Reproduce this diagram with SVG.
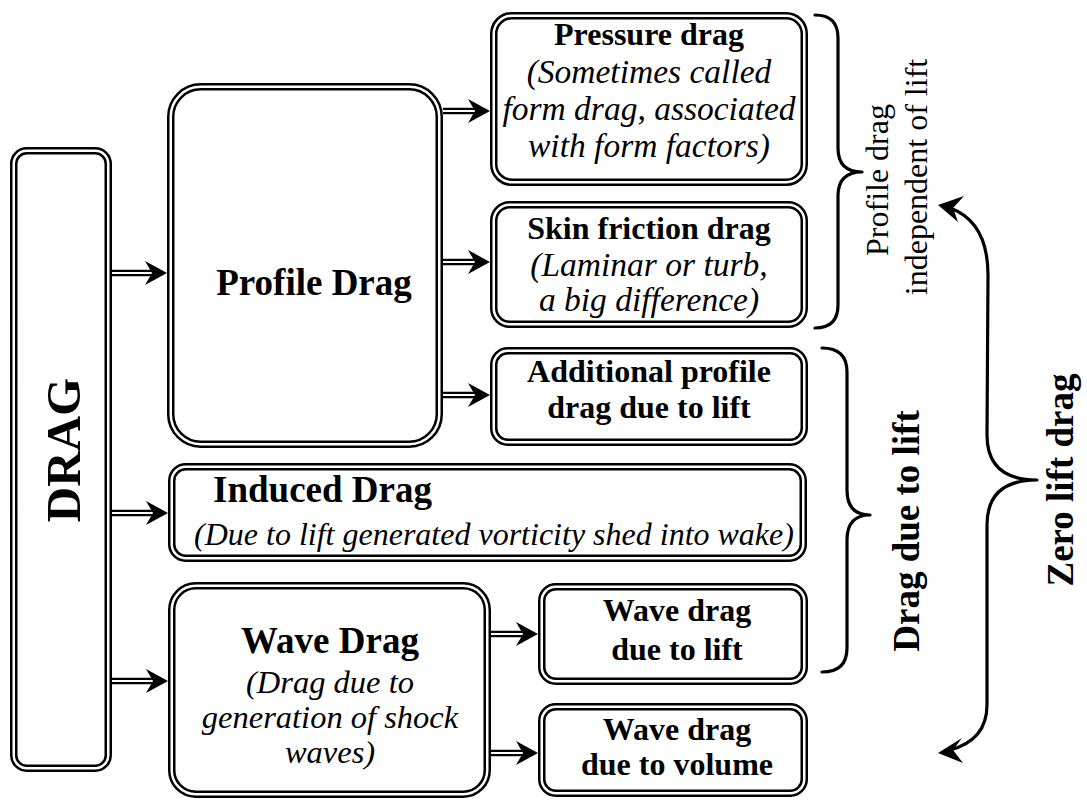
<svg xmlns="http://www.w3.org/2000/svg" width="1087" height="803" viewBox="0 0 1087 803">
<style>
.o{fill:#fff;stroke:#000;stroke-width:7.5}
.i{fill:none;stroke:#fff;stroke-width:2.5}
.sb{stroke:#000;stroke-width:6.5;fill:none}
.sw{stroke:#fff;stroke-width:2.2;fill:none}
.br{fill:none;stroke:#000;stroke-width:3.2;stroke-linecap:round;stroke-linejoin:round}
text{font-family:"Liberation Serif","Times New Roman",serif;fill:#000}
.b{font-weight:bold}
.it{font-style:italic}
.m{text-anchor:middle}
</style>
<defs>
<path id="ah" d="M0,0 L-22,-12 L-15,0 L-22,12 Z" fill="#000"/>
</defs>
<rect width="1087" height="803" fill="#fff"/>

<g id="connectors">
  <g id="a1"><line class="sb" x1="112" y1="273" x2="155" y2="273"/><line class="sw" x1="112" y1="273" x2="153" y2="273"/><use href="#ah" x="167" y="273"/></g>
  <g id="a2"><line class="sb" x1="112" y1="513" x2="156" y2="513"/><line class="sw" x1="112" y1="513" x2="154" y2="513"/><use href="#ah" x="168" y="513"/></g>
  <g id="a3"><line class="sb" x1="112" y1="681" x2="156" y2="681"/><line class="sw" x1="112" y1="681" x2="154" y2="681"/><use href="#ah" x="168" y="681"/></g>
  <g id="a4"><line class="sb" x1="443" y1="111" x2="478" y2="111"/><line class="sw" x1="443" y1="111" x2="476" y2="111"/><use href="#ah" x="490" y="111"/></g>
  <g id="a5"><line class="sb" x1="443" y1="262" x2="478" y2="262"/><line class="sw" x1="443" y1="262" x2="476" y2="262"/><use href="#ah" x="490" y="262"/></g>
  <g id="a6"><line class="sb" x1="443" y1="395" x2="478" y2="395"/><line class="sw" x1="443" y1="395" x2="476" y2="395"/><use href="#ah" x="490" y="395"/></g>
  <g id="a7"><line class="sb" x1="491" y1="634" x2="526" y2="634"/><line class="sw" x1="491" y1="634" x2="524" y2="634"/><use href="#ah" x="538" y="634"/></g>
  <g id="a8"><line class="sb" x1="491" y1="753" x2="526" y2="753"/><line class="sw" x1="491" y1="753" x2="524" y2="753"/><use href="#ah" x="538" y="753"/></g>
</g>

<g id="drag">
  <rect class="o" x="13.75" y="150.75" width="94.5" height="617.5" rx="13"/>
  <rect class="i" x="13.75" y="150.75" width="94.5" height="617.5" rx="13"/>
  <text class="b m" font-size="49" transform="translate(80,450) rotate(-90)">DRAG</text>
</g>

<g id="profile">
  <rect class="o" x="170.75" y="86.75" width="268.5" height="357.5" rx="30"/>
  <rect class="i" x="170.75" y="86.75" width="268.5" height="357.5" rx="30"/>
  <text class="b m" font-size="37" x="314" y="295">Profile Drag</text>
</g>

<g id="pressure">
  <rect class="o" x="493.75" y="15.75" width="310.5" height="166.5" rx="18"/>
  <rect class="i" x="493.75" y="15.75" width="310.5" height="166.5" rx="18"/>
  <text class="b m" font-size="32" x="649" y="45">Pressure drag</text>
  <text class="it m" font-size="33.5" x="649" y="83">(Sometimes called</text>
  <text class="it m" font-size="33.5" x="649" y="120">form drag, associated</text>
  <text class="it m" font-size="33.5" x="649" y="157">with form factors)</text>
</g>

<g id="skin">
  <rect class="o" x="493.75" y="204.75" width="310.5" height="119.5" rx="16"/>
  <rect class="i" x="493.75" y="204.75" width="310.5" height="119.5" rx="16"/>
  <text class="b m" font-size="32" x="649" y="239">Skin friction drag</text>
  <text class="it m" font-size="33.5" x="649" y="276">(Laminar or turb,</text>
  <text class="it m" font-size="33.5" x="649" y="311">a big difference)</text>
</g>

<g id="additional">
  <rect class="o" x="493.75" y="350.75" width="310.5" height="91.5" rx="14"/>
  <rect class="i" x="493.75" y="350.75" width="310.5" height="91.5" rx="14"/>
  <text class="b m" font-size="32" x="649" y="382">Additional profile</text>
  <text class="b m" font-size="32" x="649" y="418">drag due to lift</text>
</g>

<g id="induced">
  <rect class="o" x="171.75" y="466.75" width="631.5" height="91.5" rx="14"/>
  <rect class="i" x="171.75" y="466.75" width="631.5" height="91.5" rx="14"/>
  <text class="b" font-size="37" x="213" y="502">Induced Drag</text>
  <text class="it m" font-size="32" x="494" y="545">(Due to lift generated vorticity shed into wake)</text>
</g>

<g id="wave">
  <rect class="o" x="171.75" y="585.75" width="315.5" height="208.5" rx="24"/>
  <rect class="i" x="171.75" y="585.75" width="315.5" height="208.5" rx="24"/>
  <text class="b m" font-size="37" x="330" y="653">Wave Drag</text>
  <text class="it m" font-size="32.5" x="330" y="693">(Drag due to</text>
  <text class="it m" font-size="32.5" x="330" y="728">generation of shock</text>
  <text class="it m" font-size="32.5" x="330" y="763">waves)</text>
</g>

<g id="wavelift">
  <rect class="o" x="541.75" y="586.75" width="262.5" height="94.5" rx="14"/>
  <rect class="i" x="541.75" y="586.75" width="262.5" height="94.5" rx="14"/>
  <text class="b m" font-size="32" x="677" y="621">Wave drag</text>
  <text class="b m" font-size="32" x="677" y="660">due to lift</text>
</g>

<g id="wavevolume">
  <rect class="o" x="541.75" y="706.75" width="262.5" height="86.5" rx="14"/>
  <rect class="i" x="541.75" y="706.75" width="262.5" height="86.5" rx="14"/>
  <text class="b m" font-size="32" x="677" y="740">Wave drag</text>
  <text class="b m" font-size="32" x="677" y="775">due to volume</text>
</g>

<g id="brace-profile">
  <path class="br" d="M815,15 Q838,15 838,38 L838,148 Q838,172 862,172 Q838,172 838,196 L838,305 Q838,328 815,328"/>
  <text font-size="32" class="m" transform="translate(888,180) rotate(-90)">Profile drag</text>
  <text font-size="32" class="m" transform="translate(927,177) rotate(-90)">independent of lift</text>
</g>

<g id="brace-lift">
  <path class="br" d="M822,348 Q847,348 847,372 L847,490 Q847,515 870,515 Q847,515 847,540 L847,648 Q847,672 822,672"/>
  <text font-size="37" class="b m" transform="translate(919,531) rotate(-90)">Drag due to lift</text>
</g>

<g id="zero-lift">
  <path class="br" stroke-width="3.6" d="M950,208 Q988,222 988,275 L987,435 Q987,480 1037,480 Q987,480 987,525 L987,705 Q987,740 950,750"/>
  <path d="M938,205 L964,196 L953,208 L958,222 Z" fill="#000"/>
  <path d="M938,753 L962,738 L953,750 L963,763 Z" fill="#000"/>
  <text font-size="37" class="b m" transform="translate(1073,480) rotate(-90)">Zero lift drag</text>
</g>
</svg>
